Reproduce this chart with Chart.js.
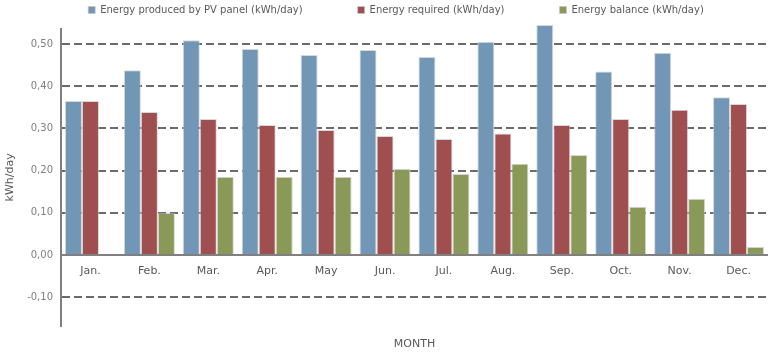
<!DOCTYPE html>
<html>
<head>
<meta charset="utf-8">
<script src="https://cdn.jsdelivr.net/npm/chart.js@4"></script>
<style>
  html, body { margin: 0; padding: 0; background: #fff; }
  #wrap { width: 768px; height: 353px; }
</style>
</head>
<body>
<div id="wrap"><canvas id="grafico"></canvas></div>
<script>
const meses = ['Jan.', 'Feb.', 'Mar.', 'Apr.', 'May', 'Jun.', 'Jul.', 'Aug.', 'Sep.', 'Oct.', 'Nov.', 'Dec.'];
const producida = [0.365, 0.438, 0.509, 0.488, 0.474, 0.486, 0.469, 0.505, 0.545, 0.435, 0.479, 0.374];
const requerida = [0.365, 0.339, 0.322, 0.308, 0.296, 0.282, 0.275, 0.288, 0.308, 0.322, 0.344, 0.358];
const balance   = [0, 0.100, 0.185, 0.185, 0.185, 0.204, 0.192, 0.216, 0.237, 0.114, 0.133, 0.019];
const ticksY = [-0.1, 0, 0.1, 0.2, 0.3, 0.4, 0.5];

Chart.defaults.font.family = '"DejaVu Sans", sans-serif';
Chart.defaults.color = '#595959';

// borde suave como en Excel
const borde = 'rgba(200,200,200,0.7)';

// la leyenda ocupa una altura fija (el padding grande es para separar items)
const altoLeyenda = {
    id: 'altoLeyenda',
    beforeLayout(chart) {
        const ley = chart.legend;
        if (ley && !ley._parcheado) {
            const fit = ley.fit;
            ley.fit = function() { fit.call(this); this.height = 79; };
            ley._parcheado = true;
        }
    }
};

new Chart(document.getElementById('grafico').getContext('2d'), {
    type: 'bar',
    data: {
        labels: meses,
        datasets: [
            { label: 'Energy produced by PV panel (kWh/day)', data: producida, backgroundColor: '#7196B6', borderColor: borde, borderWidth: 1, clip: false },
            { label: 'Energy required (kWh/day)', data: requerida, backgroundColor: '#A04F50', borderColor: borde, borderWidth: 1, clip: false },
            { label: 'Energy balance (kWh/day)', data: balance, backgroundColor: '#8A9957', borderColor: borde, borderWidth: 1, clip: false }
        ]
    },
    plugins: [altoLeyenda],
    options: {
        responsive: true,
        maintainAspectRatio: false,
        animation: false,
        layout: { padding: { top: -50, left: 24, right: 0, bottom: 0 } },
        datasets: { bar: { barPercentage: 1, categoryPercentage: 0.866 } },
        plugins: {
            tooltip: { enabled: false },
            legend: {
                position: 'top',
                labels: { boxWidth: 7, boxHeight: 7, padding: 55, font: { size: 10 }, color: '#595959' }
            }
        },
        scales: {
            x: {
                position: { y: 0 },
                grid: { display: false },
                border: { display: true, color: '#808080', width: 2 },
                ticks: { padding: 2, font: { size: 11 }, color: '#595959' }
            },
            x2: {
                type: 'category',
                position: 'bottom',
                labels: meses,
                grid: { display: false, drawTicks: false },
                border: { display: false },
                ticks: { display: false },
                title: { display: true, text: 'MONTH', font: { size: 11 }, color: '#595959', padding: { top: 12, bottom: 2 } }
            },
            y: {
                min: -0.168,
                max: 0.5355,
                afterBuildTicks: s => { s.ticks = ticksY.map(v => ({ value: v })); },
                afterFit: s => { s.width = 37; },
                grid: { color: '#6b6b6b', lineWidth: 2, drawTicks: false },
                border: { display: true, color: '#808080', width: 2, dash: [8, 4] },
                ticks: {
                    padding: 8,
                    font: { size: 10 },
                    color: '#7f7f7f',
                    callback: v => v.toFixed(2).replace('.', ',')
                },
                title: { display: true, text: 'kWh/day', font: { size: 11 }, color: '#595959', padding: { top: -20, bottom: 0 } }
            }
        }
    }
});
</script>
</body>
</html>
